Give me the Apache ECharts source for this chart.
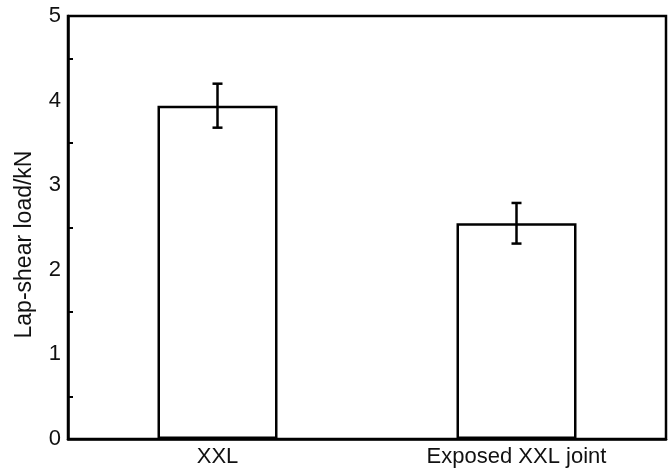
<!DOCTYPE html>
<html>
<head>
<meta charset="utf-8">
<script src="https://cdn.jsdelivr.net/npm/echarts@6/dist/echarts.min.js"></script>
<style>
  html, body { margin: 0; padding: 0; background: #fff; }
  #main { width: 672px; height: 470px; }
</style>
</head>
<body>
<div id="main"></div>
<script>
// data
var categories = ['XXL', 'Exposed XXL joint'];
var loads = [3.94, 2.55];
var errors = [0.26, 0.24];
var yTicks = [0, 1, 2, 3, 4, 5];

var chart = echarts.init(document.getElementById('main'));
var font = 'Liberation Sans, Arial, sans-serif';

var errData = categories.map(function (c, i) {
    return [i, loads[i] - errors[i], loads[i] + errors[i]];
});

chart.setOption({
    animation: false,
    grid: {
        left: 68, right: 6, top: 16, bottom: 31,
        show: true, borderColor: '#000', borderWidth: 2.5, backgroundColor: 'transparent'
    },
    xAxis: {
        type: 'category',
        data: categories,
        axisLine: { lineStyle: { color: '#000', width: 2.5 } },
        axisTick: { inside: true, alignWithLabel: true, length: 7, lineStyle: { color: '#000', width: 2 } },
        axisLabel: { color: '#111', fontSize: 22, fontFamily: font, margin: 7 },
        splitLine: { show: false }
    },
    yAxis: {
        type: 'value',
        min: yTicks[0],
        max: yTicks[yTicks.length - 1],
        interval: 1,
        name: 'Lap-shear load/kN',
        nameLocation: 'middle',
        nameGap: 32,
        // text sits a bit below the middle of the axis in the original
        nameTextStyle: { color: '#111', fontSize: 23, fontFamily: font, padding: [0, 34, 0, 0] },
        axisLine: { show: true, lineStyle: { color: '#000', width: 2.5 } },
        axisTick: { inside: true, length: 8, lineStyle: { color: '#000', width: 2 } },
        minorTick: { show: true, splitNumber: 2, length: 5, lineStyle: { color: '#000', width: 2 } },
        axisLabel: { color: '#111', fontSize: 22, fontFamily: font, margin: 7 },
        splitLine: { show: false }
    },
    series: [
        {
            type: 'bar',
            data: loads,
            barWidth: 120,
            itemStyle: { color: '#fff', borderColor: '#000', borderWidth: 2.5 }
        },
        {
            type: 'custom',
            data: errData,
            z: 10,
            renderItem: function (params, api) {
                var x = api.value(0);
                var lo = api.coord([x, api.value(1)]);
                var hi = api.coord([x, api.value(2)]);
                var cap = 5;
                var style = { stroke: '#000', lineWidth: 2.5 };
                return {
                    type: 'group',
                    children: [
                        { type: 'line', shape: { x1: hi[0], y1: hi[1], x2: lo[0], y2: lo[1] }, style: style },
                        { type: 'line', shape: { x1: hi[0] - cap, y1: hi[1], x2: hi[0] + cap, y2: hi[1] }, style: style },
                        { type: 'line', shape: { x1: lo[0] - cap, y1: lo[1], x2: lo[0] + cap, y2: lo[1] }, style: style }
                    ]
                };
            }
        }
    ]
});
</script>
</body>
</html>
